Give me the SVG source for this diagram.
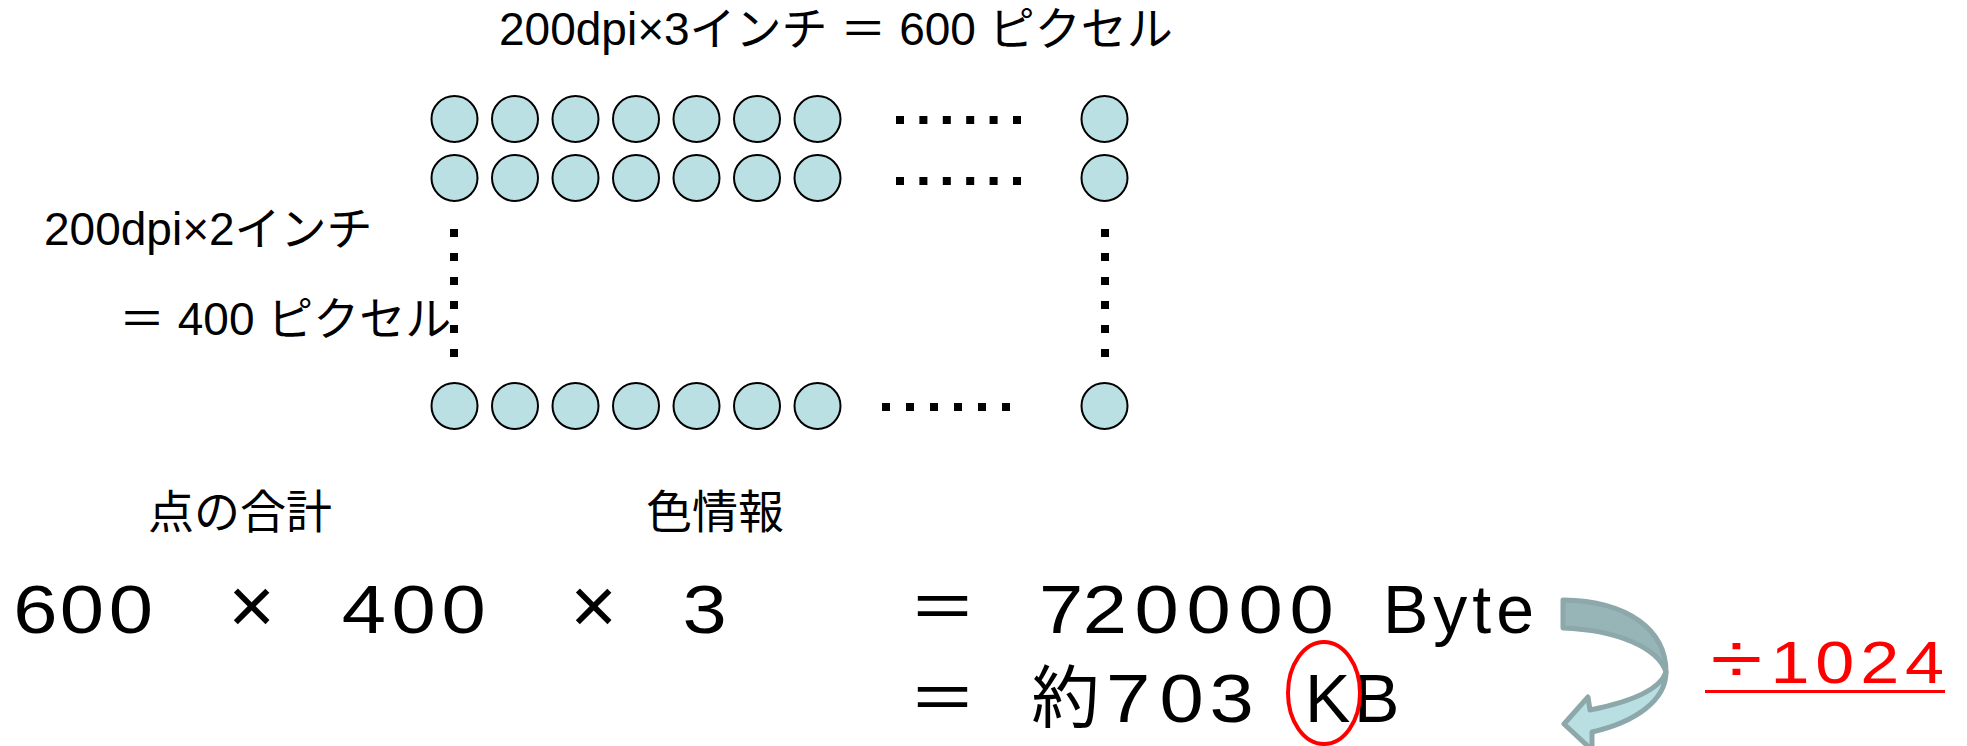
<svg xmlns="http://www.w3.org/2000/svg" width="1967" height="746" viewBox="0 0 1967 746">
<style>
.t{font-family:"Liberation Sans","Noto Sans CJK JP",sans-serif;fill:#000}
.m{font-size:46px}
.b{font-size:68px}
.x{font-size:80px}
.px{fill:#BBE0E3;stroke:#000;stroke-width:2}
.d{fill:#000}
.red{fill:#FF0000}
</style>
<defs>
<circle id="c" r="23" class="px"/>
<rect id="sq" x="-4" y="-4" width="8" height="8" class="d"/>
</defs>
<rect width="1967" height="746" fill="#fff"/>

<g id="labels">
<text class="t m" x="499" y="45">200dpi×3インチ ＝ 600 ピクセル</text>
<text class="t m" x="44" y="245">200dpi×2インチ</text>
<text class="t m" x="119" y="335">＝ 400 ピクセル</text>
<text class="t m" x="148" y="528">点の合計</text>
<text class="t m" x="646" y="528">色情報</text>
</g>

<g id="pixels">
<g id="row1">
<use href="#c" x="454.5" y="119"/><use href="#c" x="515" y="119"/><use href="#c" x="575.5" y="119"/><use href="#c" x="636" y="119"/><use href="#c" x="696.5" y="119"/><use href="#c" x="757" y="119"/><use href="#c" x="817.5" y="119"/><use href="#c" x="1104.5" y="119"/>
</g>
<g id="row2">
<use href="#c" x="454.5" y="178"/><use href="#c" x="515" y="178"/><use href="#c" x="575.5" y="178"/><use href="#c" x="636" y="178"/><use href="#c" x="696.5" y="178"/><use href="#c" x="757" y="178"/><use href="#c" x="817.5" y="178"/><use href="#c" x="1104.5" y="178"/>
</g>
<g id="row3">
<use href="#c" x="454.5" y="406"/><use href="#c" x="515" y="406"/><use href="#c" x="575.5" y="406"/><use href="#c" x="636" y="406"/><use href="#c" x="696.5" y="406"/><use href="#c" x="757" y="406"/><use href="#c" x="817.5" y="406"/><use href="#c" x="1104.5" y="406"/>
</g>
<g id="ellipsis">
<use href="#sq" x="900" y="120"/><use href="#sq" x="923.4" y="120"/><use href="#sq" x="946.8" y="120"/><use href="#sq" x="970.2" y="120"/><use href="#sq" x="993.6" y="120"/><use href="#sq" x="1017" y="120"/>
<use href="#sq" x="900" y="181"/><use href="#sq" x="923.4" y="181"/><use href="#sq" x="946.8" y="181"/><use href="#sq" x="970.2" y="181"/><use href="#sq" x="993.6" y="181"/><use href="#sq" x="1017" y="181"/>
<use href="#sq" x="886" y="407"/><use href="#sq" x="910" y="407"/><use href="#sq" x="934" y="407"/><use href="#sq" x="958" y="407"/><use href="#sq" x="982" y="407"/><use href="#sq" x="1006" y="407"/>
<use href="#sq" x="454" y="233"/><use href="#sq" x="454" y="257"/><use href="#sq" x="454" y="281"/><use href="#sq" x="454" y="305"/><use href="#sq" x="454" y="329"/><use href="#sq" x="454" y="353"/>
<use href="#sq" x="1105" y="233"/><use href="#sq" x="1105" y="257"/><use href="#sq" x="1105" y="281"/><use href="#sq" x="1105" y="305"/><use href="#sq" x="1105" y="329"/><use href="#sq" x="1105" y="353"/>
</g>
</g>

<g id="equation">
<text class="t b" transform="translate(16.7,633) scale(1.17,1)" x="-2.9 36.7 78.6" y="0">600</text>
<text class="t x" x="251.5" y="633" text-anchor="middle">×</text>
<text class="t b" transform="translate(343,633) scale(1.17,1)" x="-1.1 41.5 84.3" y="0">400</text>
<text class="t x" x="593.5" y="633" text-anchor="middle">×</text>
<text class="t b" transform="translate(686,633) scale(1.17,1)" x="-2.9" y="0">3</text>
<text class="t b" x="942.5" y="632" text-anchor="middle">＝</text>
<text class="t b" transform="translate(1043,633) scale(1.17,1)" x="-3.4 33.9 78.3 122.7 167.2 210.8" y="0">720000</text>
<text class="t b" x="1383" y="633" letter-spacing="5">Byte</text>
<text class="t b" x="942.5" y="723" text-anchor="middle">＝</text>
<text class="t b" x="1065.5" y="722" text-anchor="middle">約</text>
<text class="t b" transform="translate(1110,722) scale(1.17,1)" x="-3.4 42.4 85.1" y="0">703</text>
<text class="t b" x="1305 1354" y="722">KB</text>
<ellipse cx="1324" cy="693" rx="36" ry="51" fill="none" stroke="#FF0000" stroke-width="4"/>
</g>

<g id="connectors">
<path d="M1563,600 C1628,601 1666,630 1666,672 C1658,648 1618,630 1563,628 Z" fill="#97B4B6" stroke="#8CA8AB" stroke-width="5" stroke-linejoin="round"/>
<path d="M1666,672 C1666,700 1636,722 1592,732 L1592,750 L1564,724 L1588,697 L1590,710 C1630,702 1660,690 1666,672 Z" fill="#B9DFE2" stroke="#8CA8AB" stroke-width="5" stroke-linejoin="round"/>
</g>

<g id="divisor">
<text class="t red" transform="translate(1736.5,683) scale(1.35,1)" x="0" y="0" font-size="70" text-anchor="middle">÷</text>
<text class="t red" transform="translate(1770.4,683) scale(1.17,1)" x="0 38.4 76.8 115.1" y="0" font-size="60">1024</text>
<rect x="1705" y="690" width="240" height="3" class="red"/>
</g>
</svg>
